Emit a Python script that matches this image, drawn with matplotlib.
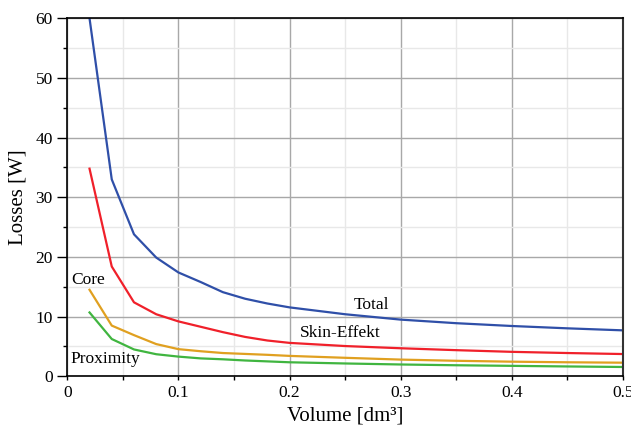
#!/usr/bin/env python3
# -*- coding: utf-8 -*-
"""
Losses of the inductor versus volume: total, skin effect, core and proximity.
"""

import matplotlib
matplotlib.use("Agg")
import matplotlib.pyplot as plt
from matplotlib.ticker import MultipleLocator, FuncFormatter

# volume in dm^3
volume = [0.02, 0.04, 0.06, 0.08, 0.10, 0.12, 0.14, 0.16, 0.18, 0.20,
          0.25, 0.30, 0.35, 0.40, 0.45, 0.50]

# losses in W
total = [60.0, 33.0, 23.8, 19.9, 17.4, 15.8, 14.1, 13.0, 12.2, 11.55,
         10.4, 9.5, 8.9, 8.43, 8.04, 7.7]
skin = [34.8, 18.4, 12.4, 10.4, 9.2, 8.3, 7.4, 6.6, 6.0, 5.6,
        5.07, 4.7, 4.38, 4.1, 3.9, 3.73]
core = [14.5, 8.5, 6.9, 5.4, 4.55, 4.2, 3.9, 3.75, 3.6, 3.42,
        3.1, 2.8, 2.6, 2.45, 2.35, 2.28]
proximity = [10.7, 6.25, 4.5, 3.7, 3.3, 3.0, 2.85, 2.65, 2.5, 2.35,
             2.15, 1.98, 1.85, 1.75, 1.65, 1.56]

plt.rcParams['font.family'] = ['Liberation Serif', 'DejaVu Serif']

fig = plt.figure(figsize=(6.31, 4.32), dpi=100)
ax = fig.add_axes([67.3/631, 1-376.3/432, (623-67.3)/631, (376.3-18.3)/432])

# curves
ax.plot(volume, total, color='#2f4fa8', lw=1.6)
ax.plot(volume, skin, color='#f0202a', lw=1.6)
ax.plot(volume, core, color='#e0a020', lw=1.6)
ax.plot(volume, proximity, color='#40b540', lw=1.6)

# curve labels
ax.text(0.258, 11.9, 'Total', fontsize=12.5, va='center', ha='left')
ax.text(0.209, 7.2, 'Skin-Effekt', fontsize=12.5, va='center', ha='left')
ax.text(0.004, 16.2, 'Core', fontsize=12.5, va='center', ha='left')
ax.text(0.0025, 2.9, 'Proximity', fontsize=12.5, va='center', ha='left')

# axes, ticks and grid
ax.set_xlim(0, 0.5)
ax.set_ylim(0, 60)
ax.xaxis.set_major_locator(MultipleLocator(0.1))
ax.xaxis.set_minor_locator(MultipleLocator(0.05))
ax.yaxis.set_major_locator(MultipleLocator(10))
ax.yaxis.set_minor_locator(MultipleLocator(5))
ax.xaxis.set_major_formatter(FuncFormatter(lambda v, p: '0' if abs(v) < 1e-9 else '%.1f' % v))
ax.grid(which='major', color='#a8a8a8', lw=1.0)
ax.grid(which='minor', color='#e8e8e8', lw=1.0)
ax.set_axisbelow(True)
ax.tick_params(which='major', axis='y', length=7, width=1, labelsize=12.5, direction='out')
ax.tick_params(which='minor', axis='y', length=3, width=1, direction='out')
ax.tick_params(which='both', axis='x', length=3, width=1, labelsize=12.5, direction='out')
for side in ['left', 'bottom', 'top']:
    ax.spines[side].set_linewidth(1.2)
ax.spines['right'].set_linewidth(1.5)
ax.spines['right'].set_color('#333333')

ax.set_xlabel('Volume [dm³]', fontsize=15, labelpad=4)
ax.set_ylabel('Losses [W]', fontsize=15, labelpad=6)

fig.savefig('out.png', dpi=100)
